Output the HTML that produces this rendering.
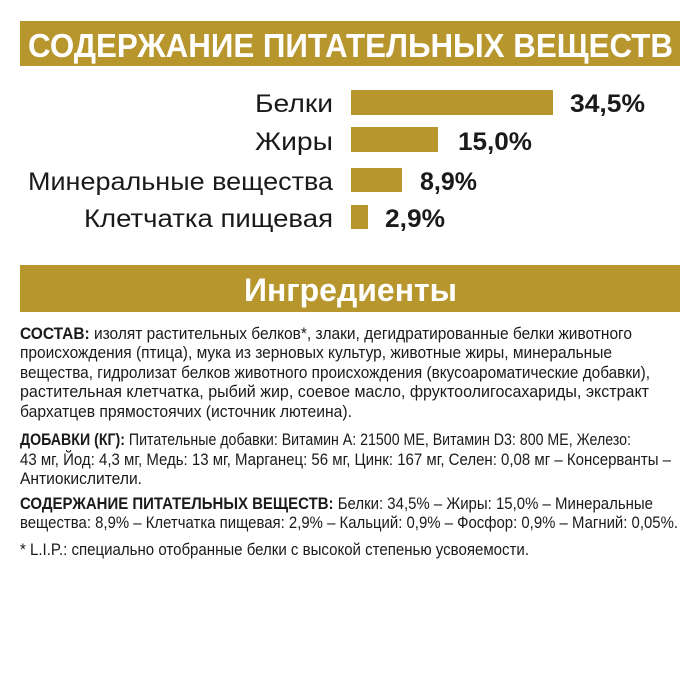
<!DOCTYPE html>
<html><head><meta charset="utf-8"><style>
html,body{margin:0;padding:0;background:#fff;width:700px;height:700px;overflow:hidden}
svg{display:block}
text{font-family:"Liberation Sans",sans-serif;fill:#1a1a1a}
</style></head><body>
<svg width="700" height="700" viewBox="0 0 700 700" xmlns="http://www.w3.org/2000/svg">
<rect x="20" y="21" width="660" height="45" fill="#B8962E"/>
<text x="28" y="57" font-size="33" font-weight="bold" style="fill:#fff" textLength="645" lengthAdjust="spacingAndGlyphs">СОДЕРЖАНИЕ ПИТАТЕЛЬНЫХ ВЕЩЕСТВ</text>

<g font-size="25">
<text x="333" y="112" text-anchor="end" textLength="78" lengthAdjust="spacingAndGlyphs">Белки</text>
<text x="333" y="150" text-anchor="end" textLength="78" lengthAdjust="spacingAndGlyphs">Жиры</text>
<text x="333" y="190" text-anchor="end" textLength="305" lengthAdjust="spacingAndGlyphs">Минеральные вещества</text>
<text x="333" y="227" text-anchor="end" textLength="249" lengthAdjust="spacingAndGlyphs">Клетчатка пищевая</text>
</g>
<rect x="351" y="90" width="202" height="25" fill="#B8962E"/>
<rect x="351" y="127" width="87" height="25" fill="#B8962E"/>
<rect x="351" y="168" width="51" height="24" fill="#B8962E"/>
<rect x="351" y="205" width="17" height="24" fill="#B8962E"/>
<g font-size="25" font-weight="bold">
<text x="570" y="112" textLength="75" lengthAdjust="spacingAndGlyphs">34,5%</text>
<text x="458" y="150" textLength="74" lengthAdjust="spacingAndGlyphs">15,0%</text>
<text x="420" y="190" textLength="57" lengthAdjust="spacingAndGlyphs">8,9%</text>
<text x="385" y="227" textLength="60" lengthAdjust="spacingAndGlyphs">2,9%</text>
</g>

<rect x="20" y="265" width="660" height="47" fill="#B8962E"/>
<text x="244" y="301" font-size="32" font-weight="bold" style="fill:#fff" textLength="213" lengthAdjust="spacingAndGlyphs">Ингредиенты</text>

<g font-size="16.5">
<text x="20" y="339" textLength="612" lengthAdjust="spacingAndGlyphs"><tspan font-weight="bold">СОСТАВ:</tspan> изолят растительных белков*, злаки, дегидратированные белки животного</text>
<text x="20" y="358" textLength="592" lengthAdjust="spacingAndGlyphs">происхождения (птица), мука из зерновых культур, животные жиры, минеральные</text>
<text x="20" y="378" textLength="630" lengthAdjust="spacingAndGlyphs">вещества, гидролизат белков животного происхождения (вкусоароматические добавки),</text>
<text x="20" y="397" textLength="629" lengthAdjust="spacingAndGlyphs">растительная клетчатка, рыбий жир, соевое масло, фруктоолигосахариды, экстракт</text>
<text x="20" y="417" textLength="332" lengthAdjust="spacingAndGlyphs">бархатцев прямостоячих (источник лютеина).</text>
<text x="20" y="445" textLength="611" lengthAdjust="spacingAndGlyphs"><tspan font-weight="bold">ДОБАВКИ (КГ):</tspan> Питательные добавки: Витамин A: 21500 МЕ, Витамин D3: 800 МЕ, Железо:</text>
<text x="20" y="465" textLength="651" lengthAdjust="spacingAndGlyphs">43 мг, Йод: 4,3 мг, Медь: 13 мг, Марганец: 56 мг, Цинк: 167 мг, Селен: 0,08 мг – Консерванты –</text>
<text x="20" y="484" textLength="122" lengthAdjust="spacingAndGlyphs">Антиокислители.</text>
<text x="20" y="509" textLength="633" lengthAdjust="spacingAndGlyphs"><tspan font-weight="bold">СОДЕРЖАНИЕ ПИТАТЕЛЬНЫХ ВЕЩЕСТВ:</tspan> Белки: 34,5% – Жиры: 15,0% – Минеральные</text>
<text x="20" y="528" textLength="658" lengthAdjust="spacingAndGlyphs">вещества: 8,9% – Клетчатка пищевая: 2,9% – Кальций: 0,9% – Фосфор: 0,9% – Магний: 0,05%.</text>
<text x="20" y="555" textLength="509" lengthAdjust="spacingAndGlyphs">* L.I.P.: специально отобранные белки с высокой степенью усвояемости.</text>
</g>
</svg>
</body></html>
